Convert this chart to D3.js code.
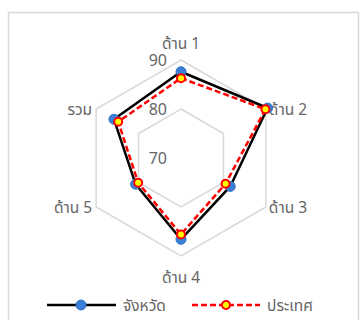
<!DOCTYPE html>
<html><head><meta charset="utf-8">
<script src="https://cdn.jsdelivr.net/npm/d3@7"></script>
<style>
html,body{margin:0;padding:0;background:#fff;}
svg{display:block;}
text{font-family:"Leelawadee UI","Tahoma","Noto Sans Thai","Noto Sans",sans-serif;fill:#666666;}
</style></head>
<body>
<svg id="c" width="360" height="320"></svg>
<script>
const categories = ["ด้าน 1","ด้าน 2","ด้าน 3","ด้าน 4","ด้าน 5","รวม"];
const seriesNames = ["จังหวัด","ประเทศ"];
const provinceValues = [87.6, 90.4, 81.6, 86.6, 80.7, 85.8];
const countryValues  = [86.3, 89.9, 80.5, 85.6, 80.1, 84.8];
const tickValues = [70, 80, 90];

const svg = d3.select("#c");
const cx = 181, cy = 158;
const r = d3.scaleLinear().domain([70, 90]).range([0, 98]);
const ang = d3.scaleLinear().domain([0, categories.length]).range([0, 2*Math.PI]);
const pt = (i, v) => [cx + r(v)*Math.sin(ang(i)), cy - r(v)*Math.cos(ang(i))];

// chart border
svg.append("rect").attr("x",8.5).attr("y",12.5).attr("width",350).attr("height",320)
  .attr("fill","none").attr("stroke","#d9d9d9").attr("stroke-width",1.5);

// grid rings
tickValues.filter(t => t > 70).forEach(t => {
  svg.append("polygon")
    .attr("points", categories.map((c,i) => pt(i,t).join(",")).join(" "))
    .attr("fill","none").attr("stroke","#d9d9d9").attr("stroke-width",1.5);
});

// tick labels
tickValues.forEach(t => {
  svg.append("text").attr("x", cx - 14).attr("y", cy - r(t) + 6)
    .attr("text-anchor","end").attr("font-size",16).attr("fill","#808080").text(t);
});

// category labels
categories.forEach((c,i) => {
  const [x,y] = pt(i, 90);
  const a = ang(i);
  let anchor = "middle", dx = 0, dy = 0;
  const s = Math.sin(a), co = Math.cos(a);
  if (s > 0.1) { anchor = "start"; dx = 3; dy = 6; }
  else if (s < -0.1) { anchor = "end"; dx = -4; dy = 6; }
  else if (co > 0) { dy = -11; }
  else { dy = 27; }
  svg.append("text").attr("x", x+dx).attr("y", y+dy)
    .attr("text-anchor", anchor).attr("font-size",15.5).text(c);
});

const line = d3.line().curve(d3.curveLinearClosed);

// province series
svg.append("path").attr("d", line(provinceValues.map((v,i)=>pt(i,v))))
  .attr("fill","none").attr("stroke","#000").attr("stroke-width",2.5);
provinceValues.forEach((v,i) => {
  const [x,y] = pt(i,v);
  svg.append("circle").attr("cx",x).attr("cy",y).attr("r",5)
    .attr("fill","#3a7fd6").attr("stroke","#2f6fc4").attr("stroke-width",1);
});

// country series
svg.append("path").attr("d", line(countryValues.map((v,i)=>pt(i,v))))
  .attr("fill","none").attr("stroke","#ff0000").attr("stroke-width",2.5)
  .attr("stroke-dasharray","6,3");
countryValues.forEach((v,i) => {
  const [x,y] = pt(i,v);
  svg.append("circle").attr("cx",x).attr("cy",y).attr("r",4)
    .attr("fill","#ffff00").attr("stroke","#ff0000").attr("stroke-width",2);
});

// legend
const ly = 305;
const lg = svg.append("g");
lg.append("line").attr("x1",47).attr("x2",116).attr("y1",ly).attr("y2",ly)
  .attr("stroke","#000").attr("stroke-width",2.5);
lg.append("circle").attr("cx",81).attr("cy",ly).attr("r",5)
  .attr("fill","#3a7fd6").attr("stroke","#2f6fc4").attr("stroke-width",1);
lg.append("text").attr("x",123).attr("y",ly+6).attr("font-size",15.5).text(seriesNames[0]);
lg.append("line").attr("x1",192).attr("x2",260).attr("y1",ly).attr("y2",ly)
  .attr("stroke","#ff0000").attr("stroke-width",2.5).attr("stroke-dasharray","6,3");
lg.append("circle").attr("cx",226).attr("cy",ly).attr("r",4)
  .attr("fill","#ffff00").attr("stroke","#ff0000").attr("stroke-width",2);
lg.append("text").attr("x",267).attr("y",ly+6).attr("font-size",15.5).text(seriesNames[1]);
</script>
</body></html>
